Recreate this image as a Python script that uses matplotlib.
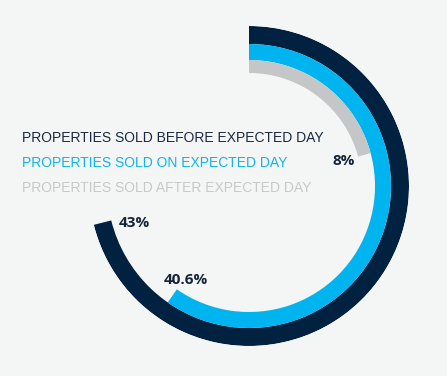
import numpy as np
import matplotlib
matplotlib.use("Agg")
import matplotlib.pyplot as plt

# ---- data ----
categories = ["PROPERTIES SOLD BEFORE EXPECTED DAY",
              "PROPERTIES SOLD ON EXPECTED DAY",
              "PROPERTIES SOLD AFTER EXPECTED DAY"]
value_labels = ["43%", "40.6%", "8%"]
# share of a full circle each arc sweeps, percent
arc_share = [71.1, 59.7, 20.8]

# ---- style ----
colors = ["#002240", "#00b5ef", "#c5c6c8"]
legend_colors = ["#1b2a40", "#11b4ee", "#c8c9cb"]
bg = "#f4f5f5"
ring_inner = [142, 126, 113]
ring_outer = [160, 142, 126]
label_r = [121, 113, 98]
label_dtheta = [-4, -1, 0.6]

W, H = 447, 376
fig = plt.figure(figsize=(W / 100, H / 100), dpi=100, facecolor=bg)

cx, cy, R = 249, 186, 160
ax = fig.add_axes([(cx - R) / W, (H - cy - R) / H, 2 * R / W, 2 * R / H],
                  projection="polar")
ax.set_theta_zero_location("N")
ax.set_theta_direction(-1)
ax.set_ylim(0, R)
ax.axis("off")
ax.patch.set_alpha(0)

for i, share in enumerate(arc_share):
    ext = np.deg2rad(share / 100 * 360)
    ax.barh(y=ring_inner[i], width=ext, left=0,
            height=ring_outer[i] - ring_inner[i], align="edge",
            color=colors[i], edgecolor="none", linewidth=0)
    ax.text(ext + np.deg2rad(label_dtheta[i]), label_r[i], value_labels[i],
            ha="center", va="center", fontsize=11, fontweight="bold",
            family="Open Sans", color="#14243a")

for i, cat in enumerate(categories):
    fig.text(22 / W, 1 - (138 + 25 * i) / H, cat, ha="left", va="center",
             fontsize=10, family="Liberation Sans", color=legend_colors[i])

fig.savefig("out.png", dpi=100, facecolor=bg)
